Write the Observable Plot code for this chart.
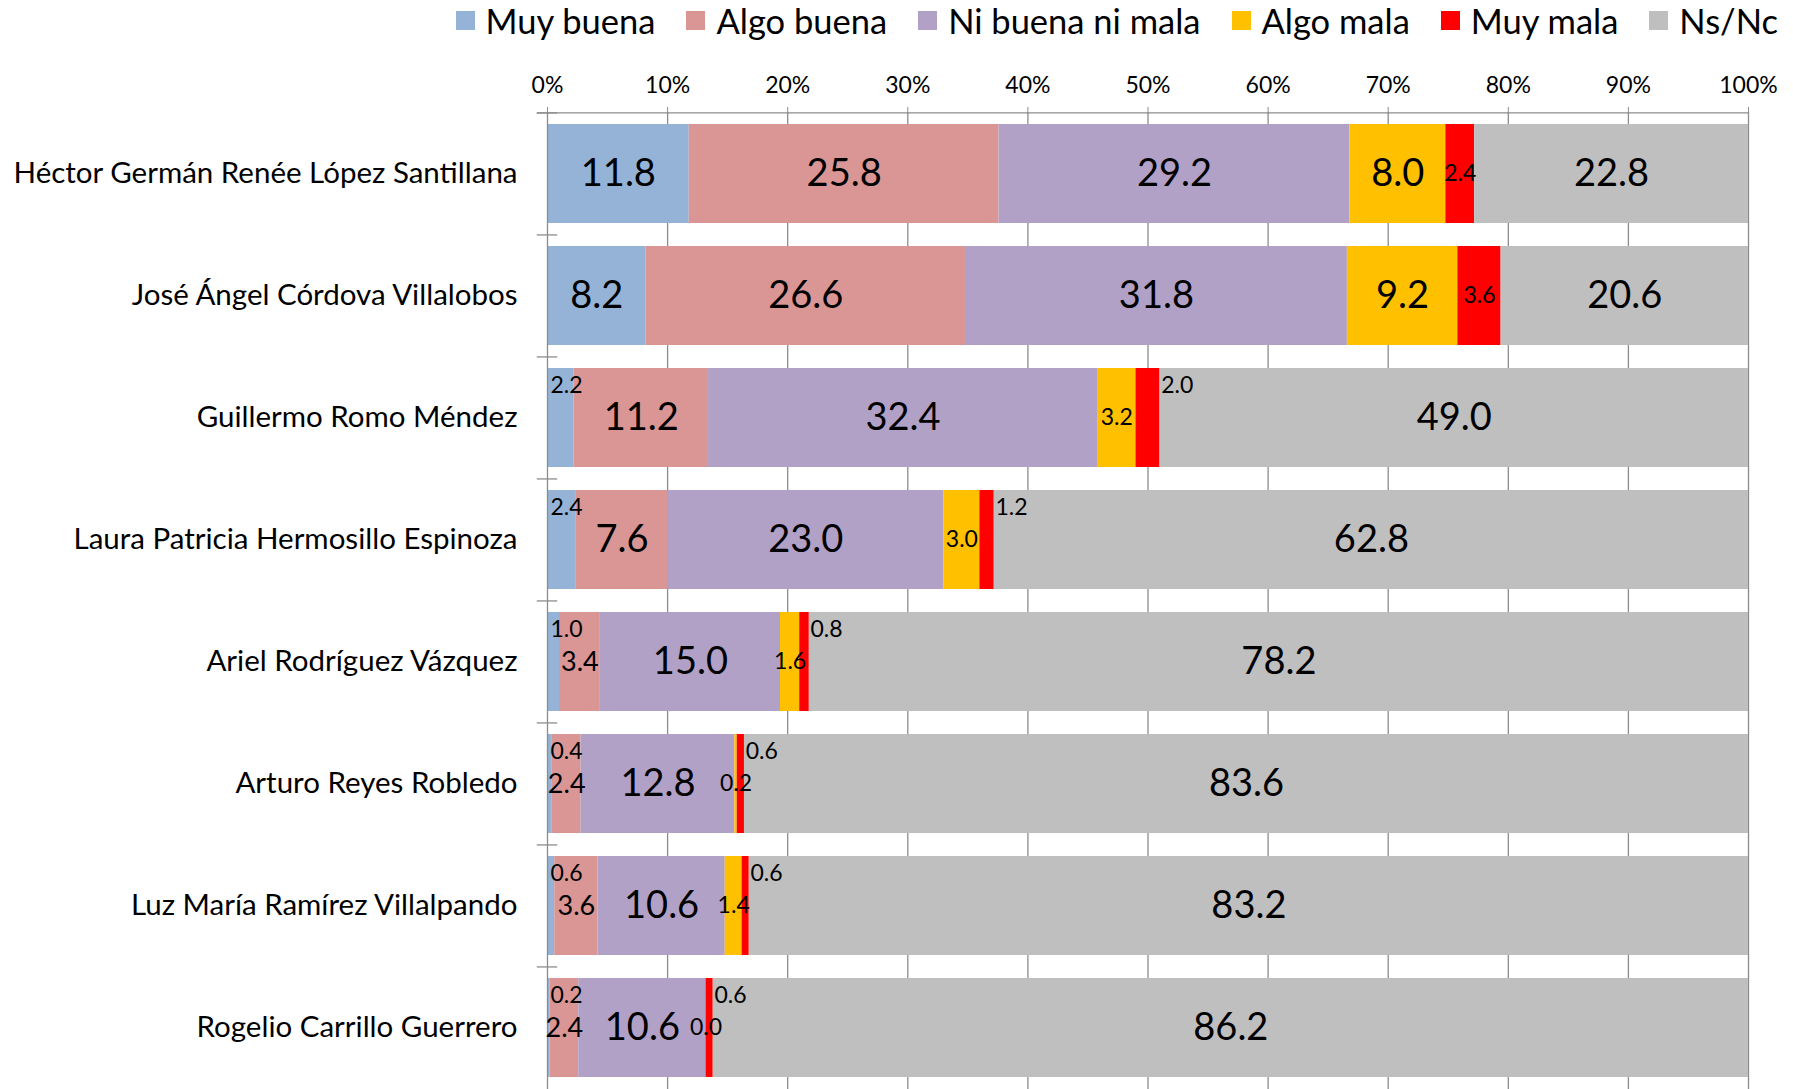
<!DOCTYPE html>
<html><head><meta charset="utf-8">
<script src="https://cdn.jsdelivr.net/npm/d3@7"></script>
<script src="https://cdn.jsdelivr.net/npm/@observablehq/plot@0.6"></script>
<style>
body{margin:0;background:#fff;font-family:Lato,"Open Sans",sans-serif;}
#legend{height:40px;display:flex;justify-content:flex-end;align-items:center;gap:31px;padding-right:15px;font-size:34.5px;color:#000;}
.item{display:flex;align-items:center;white-space:nowrap;}
.sw{width:19px;height:19px;margin-right:11px;}
#chart svg{display:block;}
</style></head><body>
<div id="legend"></div><div id="chart"></div>
<script>
const candidates = [
  "Héctor Germán Renée López Santillana",
  "José Ángel Córdova Villalobos",
  "Guillermo Romo Méndez",
  "Laura Patricia Hermosillo Espinoza",
  "Ariel Rodríguez Vázquez",
  "Arturo Reyes Robledo",
  "Luz María Ramírez Villalpando",
  "Rogelio Carrillo Guerrero"
];
const series = ["Muy buena","Algo buena","Ni buena ni mala","Algo mala","Muy mala","Ns/Nc"];
const colors = ["#95b3d7","#d99694","#b2a1c7","#ffc000","#ff0000","#bfbfbf"];
const muyBuena      = [11.8, 8.2, 2.2, 2.4, 1.0, 0.4, 0.6, 0.2];
const algoBuena     = [25.8, 26.6, 11.2, 7.6, 3.4, 2.4, 3.6, 2.4];
const niBuenaNiMala = [29.2, 31.8, 32.4, 23.0, 15.0, 12.8, 10.6, 10.6];
const algoMala      = [8.0, 9.2, 3.2, 3.0, 1.6, 0.2, 1.4, 0.0];
const muyMala       = [2.4, 3.6, 2.0, 1.2, 0.8, 0.6, 0.6, 0.6];
const nsNc          = [22.8, 20.6, 49.0, 62.8, 78.2, 83.6, 83.2, 86.2];
const xTicks = [0,10,20,30,40,50,60,70,80,90,100];

const seriesValues = [muyBuena, algoBuena, niBuenaNiMala, algoMala, muyMala, nsNc];

// legend
const legend = document.getElementById("legend");
series.forEach((s, j) => {
  const it = document.createElement("div"); it.className = "item";
  const sw = document.createElement("div"); sw.className = "sw"; sw.style.background = colors[j];
  const tx = document.createElement("span"); tx.textContent = s;
  it.appendChild(sw); it.appendChild(tx); legend.appendChild(it);
});

// long table
const rows = [];
candidates.forEach((c, i) => {
  let cum = 0;
  series.forEach((s, j) => {
    const v = seriesValues[j][i];
    let place = "c";
    if (s === "Muy buena" && v < 5) place = "ts";
    else if (s === "Muy mala" && v <= 2) place = "ta";
    const size = v >= 5 ? "L" : (s === "Algo buena" ? "M" : "S");
    rows.push({candidate: c, series: s, value: v, x1: cum, x2: cum + v, place, size});
    cum += v;
  });
});

const W = 1793, H = 1049, mt = 72, mb = 0, ml = 547, mr = 45;
const step = (H - mt - mb) / candidates.length;
const barH = step * 0.81;
const topDy = -barH / 2 + 17;
const grid = "#8c8c8c";
const fmt = d => d.toFixed(1);

const plot = Plot.plot({
  width: W, height: H,
  marginTop: mt, marginBottom: mb, marginLeft: ml, marginRight: mr,
  style: {fontFamily: "Lato, 'Open Sans', sans-serif", color: "#000", background: "#fff"},
  x: {domain: [0, 100], ticks: xTicks, tickFormat: d => d + "%", label: null},
  y: {domain: candidates, paddingInner: 0.19, paddingOuter: 0.095, label: null},
  color: {domain: series, range: colors},
  marks: [
    Plot.ruleX(xTicks.slice(1), {stroke: grid, strokeWidth: 1.3}),
    Plot.barX(rows, {x1: "x1", x2: "x2", y: "candidate", fill: "series"}),
    Plot.ruleX([0], {stroke: grid, strokeWidth: 1.3}),
    Plot.ruleY([candidates[0]], {y: d => d, dy: -step / 2, x1: -0.85, x2: 100, stroke: grid, strokeWidth: 1.3}),
    Plot.ruleY(candidates, {y: d => d, dy: -step / 2, x1: -0.85, x2: 0.85, stroke: grid, strokeWidth: 1.3}),
    Plot.axisX({anchor: "top", ticks: xTicks, tickFormat: d => d + "%", tickSize: 6, tickPadding: 14, fontSize: 23, stroke: grid, label: null}),
    Plot.axisY({anchor: "left", tickSize: 0, tickPadding: 30, fontSize: 29.5, label: null}),
    Plot.text(rows, {filter: d => d.place === "c" && d.size === "L", x: d => (d.x1 + d.x2) / 2, y: "candidate", text: d => fmt(d.value), fontSize: 38, fill: "#000"}),
    Plot.text(rows, {filter: d => d.place === "c" && d.size === "M", x: d => (d.x1 + d.x2) / 2, y: "candidate", text: d => fmt(d.value), fontSize: 27, fill: "#000"}),
    Plot.text(rows, {filter: d => d.place === "c" && d.size === "S", x: d => (d.x1 + d.x2) / 2, y: "candidate", text: d => fmt(d.value), fontSize: 23, fill: "#000"}),
    Plot.text(rows, {filter: d => d.place === "ts", x: d => d.x1 + 0.25, y: "candidate", text: d => fmt(d.value), textAnchor: "start", dy: topDy, fontSize: 23, fill: "#000"}),
    Plot.text(rows, {filter: d => d.place === "ta", x: d => d.x2 + 0.1, y: "candidate", text: d => fmt(d.value), textAnchor: "start", dy: topDy, fontSize: 23, fill: "#000"})
  ]
});
document.getElementById("chart").appendChild(plot);
</script>
</body></html>
